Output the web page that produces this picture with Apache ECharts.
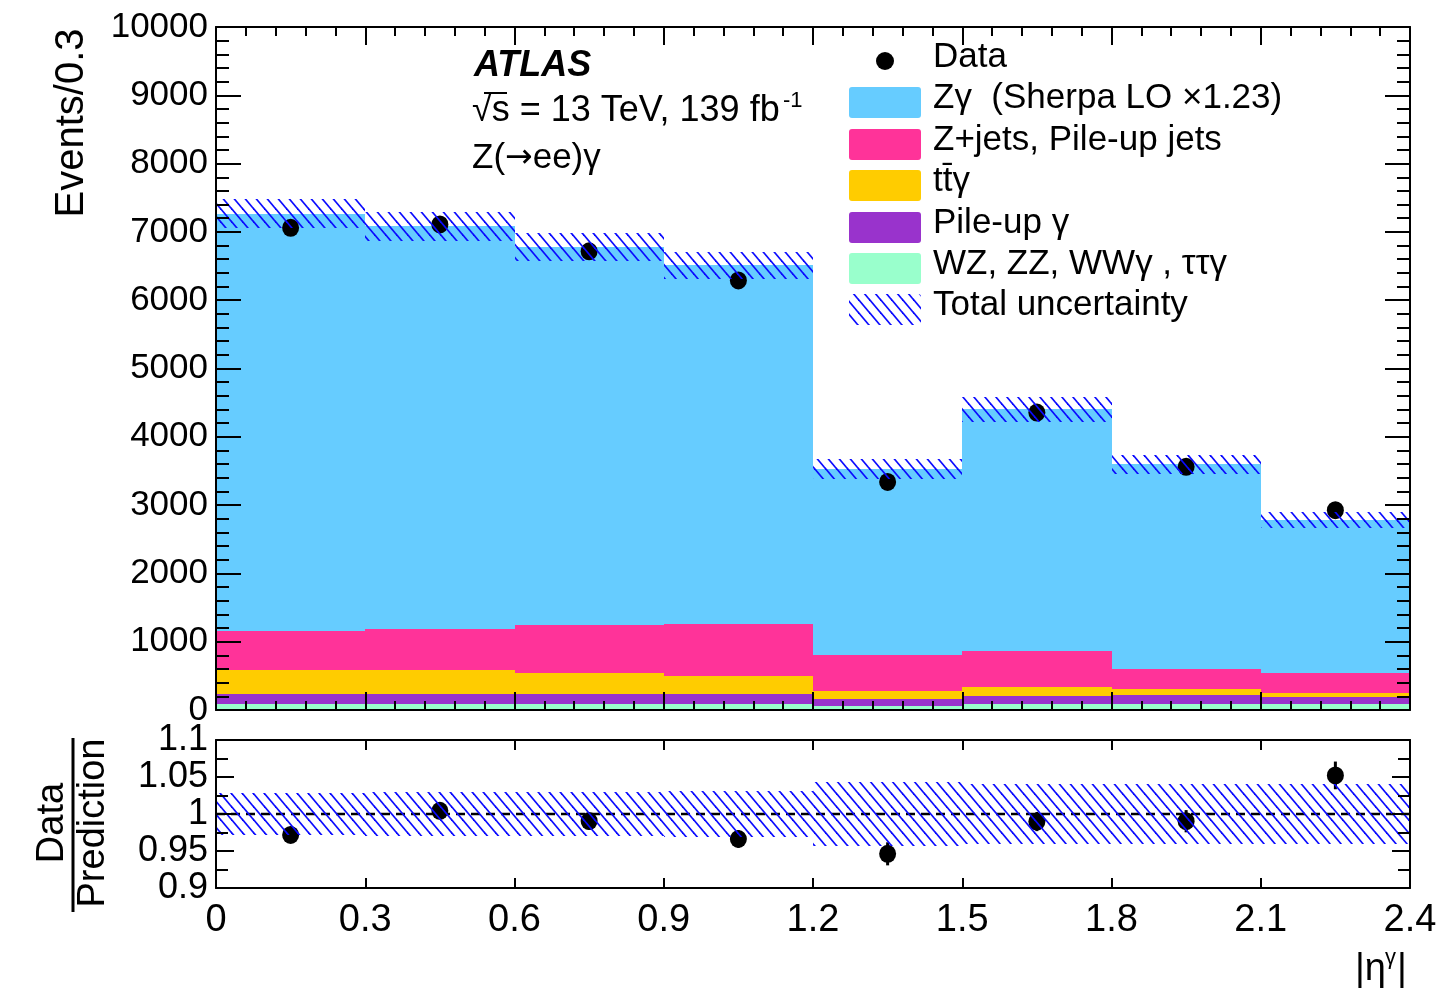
<!DOCTYPE html>
<html>
<head>
<meta charset="utf-8">
<script src="https://cdn.jsdelivr.net/npm/echarts@6/dist/echarts.min.js"></script>
<style>
  html, body { margin: 0; padding: 0; background: #fff; }
  #chart { width: 1450px; height: 994px; }
</style>
</head>
<body>
<div id="chart"></div>
<script>
// |eta^gamma| binning (width 0.3)
const binEdges = [0, 0.3, 0.6, 0.9, 1.2, 1.5, 1.8, 2.1, 2.4];

// Expected yields per bin (events / 0.3)
const zgamma      = [6110, 5895, 5530, 5245, 2730, 3535, 2990, 2235];
const zjets       = [570, 600, 715, 765, 525, 530, 295, 290];
const ttgamma     = [350, 350, 295, 260, 120, 125, 95, 60];
const pileupGamma = [145, 145, 155, 155, 90, 120, 125, 105];
const diboson     = [90, 90, 85, 85, 65, 90, 90, 90];

// Observed data and its statistical error
const dataCounts  = [7060, 7110, 6715, 6290, 3340, 4355, 3560, 2925];
const dataStatErr = [80, 80, 78, 76, 55, 57, 54, 52];

// Total relative uncertainty on the prediction
const totalRelUnc = [0.029, 0.030, 0.030, 0.031, 0.043, 0.041, 0.040, 0.041];

// Axis ticks
const mainYTicks  = { min: 0, max: 10000, step: 1000 };
const ratioYTicks = { min: 0.9, max: 1.1, step: 0.05 };
const xTicks      = { min: 0, max: 2.4, step: 0.3 };

// Legend entries
const legendLabels = ['Data', 'Z\u03b3  (Sherpa LO \u00d71.23)', 'Z+jets, Pile-up jets',
                      'tt\u0304\u03b3', 'Pile-up \u03b3', 'WZ, ZZ, WW\u03b3 , \u03c4\u03c4\u03b3', 'Total uncertainty'];

const colors = {
  zgamma: '#66ccff', zjets: '#ff3399', ttgamma: '#ffcc00',
  pileup: '#9933cc', diboson: '#99ffcc', hatch: '#0a0aff'
};
const FONT = '"Liberation Sans", Arial, Helvetica, sans-serif';

// Diagonal hatch tile used for the uncertainty band
function makeHatch() {
  const w = 11, h = 13;
  const c = document.createElement('canvas');
  c.width = w; c.height = h;
  const ctx = c.getContext('2d');
  ctx.strokeStyle = colors.hatch;
  ctx.lineWidth = 1.7;
  for (const dx of [-w, 0, w]) {
    ctx.beginPath();
    ctx.moveTo(dx - w, -h);
    ctx.lineTo(dx + 2 * w, 2 * h);
    ctx.stroke();
  }
  return c;
}
const hatchFill = { image: makeHatch(), repeat: 'repeat' };

// Rectangle spanning one bin: value = [x0, x1, ylo, yhi]
function binRect(fill) {
  return function (params, api) {
    const a = api.coord([api.value(0), api.value(3)]);
    const b = api.coord([api.value(1), api.value(2)]);
    const x0 = Math.round(a[0]), x1 = Math.round(b[0]);
    const y0 = Math.round(a[1]), y1 = Math.round(b[1]);
    return {
      type: 'rect',
      shape: { x: x0, y: y0, width: x1 - x0, height: y1 - y0 },
      style: { fill: fill }
    };
  };
}

// Vertical error bar: value = [x, y, err]
function errBar(params, api) {
  const x = api.value(0), y = api.value(1), e = api.value(2);
  const top = api.coord([x, y + e]);
  const bot = api.coord([x, y - e]);
  return {
    type: 'line',
    shape: { x1: top[0], y1: top[1], x2: bot[0], y2: bot[1] },
    style: { stroke: '#000', lineWidth: 3 }
  };
}

const nBins = binEdges.length - 1;
const centers = [];
for (let i = 0; i < nBins; i++) centers.push((binEdges[i] + binEdges[i + 1]) / 2);

// Stack from bottom to top
const stack = [
  { values: diboson, color: colors.diboson },
  { values: pileupGamma, color: colors.pileup },
  { values: ttgamma, color: colors.ttgamma },
  { values: zjets, color: colors.zjets },
  { values: zgamma, color: colors.zgamma }
];
const total = new Array(nBins).fill(0);
const stackSeries = stack.map(function (comp) {
  const data = comp.values.map(function (v, i) {
    const lo = total[i];
    const hi = lo + v;
    total[i] = hi;
    return [binEdges[i], binEdges[i + 1], lo, hi];
  });
  return {
    type: 'custom', xAxisIndex: 0, yAxisIndex: 0, z: 2,
    renderItem: binRect(comp.color), encode: { x: [0, 1], y: [2, 3] },
    data: data, silent: true
  };
});

const mainBand = total.map(function (t, i) {
  return [binEdges[i], binEdges[i + 1], t * (1 - totalRelUnc[i]), t * (1 + totalRelUnc[i])];
});
const ratioBand = total.map(function (t, i) {
  return [binEdges[i], binEdges[i + 1], 1 - totalRelUnc[i], 1 + totalRelUnc[i]];
});
const mainPoints = dataCounts.map(function (d, i) { return [centers[i], d]; });
const mainErr = dataCounts.map(function (d, i) { return [centers[i], d, dataStatErr[i]]; });
const ratioPoints = dataCounts.map(function (d, i) { return [centers[i], d / total[i]]; });
const ratioErr = dataCounts.map(function (d, i) { return [centers[i], d / total[i], dataStatErr[i] / total[i]]; });

const axisLineStyle = { color: '#000', width: 2 };
function xAxisDef(grid, pos, opts) {
  return Object.assign({
    type: 'value', gridIndex: grid, position: pos,
    min: xTicks.min, max: xTicks.max, interval: xTicks.step,
    axisLine: { show: true, onZero: false, lineStyle: axisLineStyle },
    axisTick: { show: true, inside: true, length: 18, lineStyle: axisLineStyle },
    minorTick: { show: true, splitNumber: 5, length: 9, lineStyle: axisLineStyle },
    axisLabel: { show: false },
    splitLine: { show: false },
    z: 10
  }, opts || {});
}
function yAxisDef(grid, pos, range, opts) {
  return Object.assign({
    type: 'value', gridIndex: grid, position: pos,
    min: range.min, max: range.max, interval: range.step,
    axisLine: { show: true, onZero: false, lineStyle: axisLineStyle },
    axisTick: { show: true, inside: true, length: 25, lineStyle: axisLineStyle },
    minorTick: { show: true, splitNumber: 5, length: 13, lineStyle: axisLineStyle },
    axisLabel: { show: false },
    splitLine: { show: false },
    z: 10
  }, opts || {});
}

const ratioTickOverrides = {
  axisTick: { show: true, inside: true, length: 18, lineStyle: axisLineStyle },
  minorTick: { show: true, splitNumber: 2, length: 12, lineStyle: axisLineStyle }
};
const ratioXTicks = {
  axisTick: { show: true, inside: true, length: 10, lineStyle: axisLineStyle },
  minorTick: { show: false }
};
const plainNumber = function (v) { return String(+v.toFixed(3)); };

// Legend graphic
const legendX = 849, legendTextX = 933;
const rowY = [57, 98, 140, 181, 223, 264, 305];
const legendGraphics = [];
legendGraphics.push({ type: 'circle', shape: { cx: 885, cy: 61, r: 9 }, style: { fill: '#000' } });
const boxFills = [colors.zgamma, colors.zjets, colors.ttgamma, colors.pileup, colors.diboson, hatchFill];
boxFills.forEach(function (f, k) {
  legendGraphics.push({
    type: 'rect', shape: { x: legendX, y: rowY[k + 1] - 11, width: 72, height: 31, r: 3 },
    style: { fill: f }
  });
});
legendLabels.forEach(function (t, k) {
  legendGraphics.push({
    type: 'text', x: legendTextX, y: rowY[k],
    style: { text: t, font: '35px ' + FONT, fill: '#000', textAlign: 'left', textVerticalAlign: 'middle' }
  });
});

const textGraphics = [
  { type: 'text', x: 474, y: 66, style: { text: 'ATLAS', font: 'italic bold 36px ' + FONT, fill: '#000', textVerticalAlign: 'middle' } },
  { type: 'text', x: 472, y: 111, style: { text: '\u221as = 13 TeV, 139 fb', font: '36px ' + FONT, fill: '#000', textVerticalAlign: 'middle' } },
  { type: 'text', x: 783, y: 101, style: { text: '-1', font: '22px ' + FONT, fill: '#000', textVerticalAlign: 'middle' } },
  { type: 'line', shape: { x1: 484, y1: 93, x2: 507, y2: 93 }, style: { stroke: '#000', lineWidth: 2 } },
  { type: 'text', x: 472, y: 158, style: {
      text: '{a|Z(}{b|\u2192}{a|ee)\u03b3}', fill: '#000', textVerticalAlign: 'middle',
      rich: {
        a: { font: '35px ' + FONT, fill: '#000' },
        b: { font: '33px "DejaVu Sans", ' + FONT, fill: '#000' }
      } } },
  // axis titles
  { type: 'text', x: 72, y: 123, rotation: Math.PI / 2,
    style: { text: 'Events/0.3', font: '40px ' + FONT, fill: '#000', textAlign: 'center', textVerticalAlign: 'middle' } },
  { type: 'text', x: 53, y: 823, rotation: Math.PI / 2,
    style: { text: 'Data', font: '38px ' + FONT, fill: '#000', textAlign: 'center', textVerticalAlign: 'middle' } },
  { type: 'line', shape: { x1: 73, y1: 738, x2: 73, y2: 912 }, style: { stroke: '#000', lineWidth: 3 } },
  { type: 'text', x: 94, y: 823, rotation: Math.PI / 2,
    style: { text: 'Prediction', font: '38px ' + FONT, fill: '#000', textAlign: 'center', textVerticalAlign: 'middle' } },
  { type: 'text', x: 1355, y: 970, style: { text: '|\u03b7', font: '38px ' + FONT, fill: '#000', textVerticalAlign: 'middle' } },
  { type: 'text', x: 1385, y: 958, style: { text: '\u03b3', font: '22px ' + FONT, fill: '#000', textVerticalAlign: 'middle' } },
  { type: 'text', x: 1397, y: 970, style: { text: '|', font: '38px ' + FONT, fill: '#000', textVerticalAlign: 'middle' } }
];

const option = {
  animation: false,
  backgroundColor: '#fff',
  textStyle: { fontFamily: FONT },
  grid: [
    { left: 216, right: 40, top: 27, height: 683 },
    { left: 216, right: 40, top: 740, height: 148 }
  ],
  xAxis: [
    xAxisDef(0, 'bottom'),
    xAxisDef(0, 'top'),
    xAxisDef(1, 'bottom', Object.assign({
      axisLabel: { show: true, fontSize: 38, color: '#000', margin: 14, fontFamily: FONT, formatter: plainNumber }
    }, ratioXTicks)),
    xAxisDef(1, 'top', ratioXTicks)
  ],
  yAxis: [
    yAxisDef(0, 'left', mainYTicks, {
      axisLabel: { show: true, fontSize: 35, color: '#000', margin: 8, fontFamily: FONT, formatter: plainNumber }
    }),
    yAxisDef(0, 'right', mainYTicks),
    yAxisDef(1, 'left', ratioYTicks, Object.assign({
      axisLabel: { show: true, fontSize: 36, color: '#000', margin: 8, fontFamily: FONT, formatter: plainNumber }
    }, ratioTickOverrides)),
    yAxisDef(1, 'right', ratioYTicks, ratioTickOverrides)
  ],
  series: stackSeries.concat([
    {
      type: 'custom', xAxisIndex: 0, yAxisIndex: 0, z: 3, silent: true,
      renderItem: errBar, encode: { x: 0, y: 1 }, data: mainErr
    },
    {
      type: 'scatter', xAxisIndex: 0, yAxisIndex: 0, z: 3, silent: true,
      symbol: 'circle', symbolSize: [17, 18], itemStyle: { color: '#000', opacity: 1 }, data: mainPoints
    },
    {
      type: 'custom', xAxisIndex: 0, yAxisIndex: 0, z: 4, silent: true,
      renderItem: binRect(hatchFill), encode: { x: [0, 1], y: [2, 3] }, data: mainBand
    },
    {
      type: 'line', xAxisIndex: 2, yAxisIndex: 2, z: 2, silent: true, symbol: 'none',
      lineStyle: { color: '#000', width: 2.5, type: [9, 6] },
      data: [[xTicks.min, 1], [xTicks.max, 1]]
    },
    {
      type: 'custom', xAxisIndex: 2, yAxisIndex: 2, z: 3, silent: true,
      renderItem: errBar, encode: { x: 0, y: 1 }, data: ratioErr
    },
    {
      type: 'scatter', xAxisIndex: 2, yAxisIndex: 2, z: 3, silent: true,
      symbol: 'circle', symbolSize: [17, 18], itemStyle: { color: '#000', opacity: 1 }, data: ratioPoints
    },
    {
      type: 'custom', xAxisIndex: 2, yAxisIndex: 2, z: 4, silent: true,
      renderItem: binRect(hatchFill), encode: { x: [0, 1], y: [2, 3] }, data: ratioBand
    }
  ]),
  graphic: { elements: legendGraphics.concat(textGraphics) }
};

const chart = echarts.init(document.getElementById('chart'), null, { renderer: 'canvas' });
chart.setOption(option);
</script>
</body>
</html>
